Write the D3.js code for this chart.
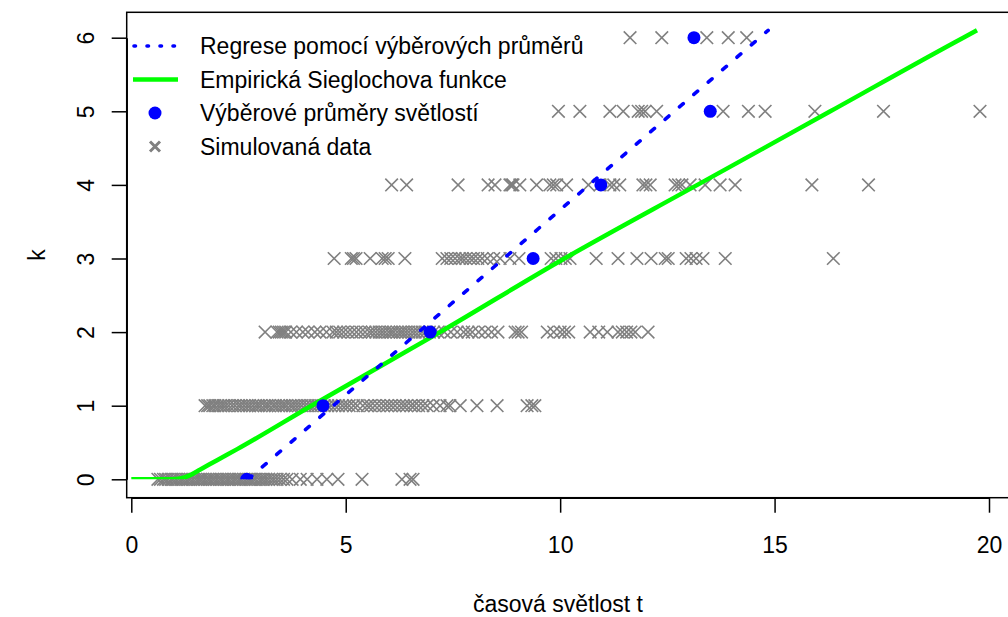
<!DOCTYPE html>
<html>
<head>
<meta charset="utf-8">
<script src="https://cdn.jsdelivr.net/npm/d3@7"></script>
<style>
  body { margin: 0; background: #fff; }
  text { font-family: "Liberation Sans", Arial, sans-serif; fill: #000; }
</style>
</head>
<body>
<div id="graph-area"></div>
<script>
// simulated data, one list per level k
var sim0 = [0.62,0.68,0.75,0.8,0.86,0.93,0.98,1.04,1.1,1.16,1.21,1.27,1.33,1.38,1.44,1.5,1.56,1.61,1.66,1.72,1.78,1.83,1.89,1.94,2.0,2.06,2.11,2.17,2.23,2.28,2.34,2.4,2.45,2.51,2.56,2.62,2.68,2.74,2.79,2.85,2.9,2.97,3.03,3.08,3.14,3.2,3.27,3.33,3.4,3.47,3.55,3.63,3.75,3.94,4.1,4.33,4.56,4.82,5.38,6.31,6.5,6.57];
var sim1 = [1.72,1.78,1.83,1.9,1.95,2.02,2.08,2.14,2.2,2.27,2.35,2.42,2.5,2.56,2.63,2.7,2.76,2.83,2.9,2.96,3.02,3.1,3.16,3.22,3.3,3.36,3.43,3.5,3.56,3.62,3.7,3.76,3.83,3.9,3.97,4.05,4.12,4.2,4.28,4.35,4.42,4.5,4.58,4.66,4.75,4.83,4.92,5.0,5.08,5.18,5.27,5.4,5.5,5.58,5.68,5.78,5.88,5.97,6.06,6.15,6.25,6.34,6.42,6.52,6.6,6.7,6.8,6.9,7.04,7.2,7.36,7.43,7.67,8.06,8.53,9.23,9.34,9.41];
var sim2 = [3.12,3.4,3.45,3.5,3.55,3.6,3.72,3.85,4.0,4.12,4.28,4.4,4.55,4.7,4.78,4.86,4.95,5.05,5.15,5.25,5.35,5.45,5.55,5.62,5.7,5.78,5.85,5.92,6.0,6.06,6.12,6.2,6.27,6.33,6.4,6.47,6.55,6.62,6.7,6.78,6.86,6.95,7.05,7.15,7.3,7.45,7.6,7.75,7.85,7.95,8.1,8.25,8.4,8.55,8.95,9.02,9.1,9.7,9.85,10.0,10.1,10.2,10.7,10.9,11.1,11.35,11.45,11.55,11.65,11.75,12.05];
var sim3 = [4.73,5.13,5.18,5.24,5.57,5.85,5.92,5.99,6.38,7.25,7.36,7.45,7.55,7.65,7.72,7.8,7.9,7.98,8.08,8.18,8.3,8.45,8.6,8.83,9.04,9.79,9.9,10.02,10.12,10.23,10.84,11.35,11.79,12.12,12.45,12.52,12.94,13.05,13.17,13.33,13.85,16.37];
var sim4 = [6.07,6.42,7.62,8.32,8.48,8.83,8.87,8.9,9.06,9.45,9.76,9.84,9.92,10.15,10.66,10.93,11.16,11.25,11.39,11.93,12.0,12.1,12.68,12.76,12.84,13.03,13.38,13.73,14.08,15.87,17.19];
var sim5 = [9.96,10.46,11.16,11.47,11.82,11.9,11.98,12.25,13.8,14.39,14.78,15.94,17.54,19.79];
var sim6 = [11.63,12.37,13.42,13.92,14.35];
var simLevels = [sim0, sim1, sim2, sim3, sim4, sim5, sim6];

// sample means
var meanT = [2.69, 4.47, 6.97, 9.37, 10.95, 13.5, 13.12];
var meanK = [0, 1, 2, 3, 4, 5, 6];

// regression line through the means
var regT = [2.72, 14.85];
var regK = [0, 6.1];

// empirical Siegloch function
var sieglT = [0, 0.95, 1.15, 1.35, 1.6, 2.0, 2.47, 4.2, 7.2, 10.1, 13.2, 16.3, 19.4, 19.72];
var sieglK = [0, 0, 0.01, 0.05, 0.13, 0.26, 0.41, 1.0, 2.0, 3.0, 4.0, 5.0, 6.0, 6.1];

var xTicks = [0, 5, 10, 15, 20];
var yTicks = [0, 1, 2, 3, 4, 5, 6];
var legendLabels = ["Regrese pomocí výběrových průměrů", "Empirická Sieglochova funkce", "Výběrové průměry světlostí", "Simulovaná data"];

var width = 1008, height = 617;
var box = {left: 126.7, top: 12.3, bottom: 497.7, right: 1030};

var svg = d3.select("#graph-area")
    .append("svg")
    .attr("width", width)
    .attr("height", height);

svg.append("rect").attr("width", width).attr("height", height).attr("fill", "#fff");

var x = d3.scaleLinear().domain([0, 20]).range([131.3, 989]);
var y = d3.scaleLinear().domain([0, 6]).range([479.3, 37.7]);

// clip: lines and points are cut off below k = 0
svg.append("clipPath").attr("id", "clipTop")
    .append("rect")
    .attr("x", box.left).attr("y", box.top)
    .attr("width", box.right - box.left)
    .attr("height", y(0) - box.top);

// simulated crosses
var simData = [];
simLevels.forEach(function(list, k) {
    list.forEach(function(t) { simData.push({t: t, k: k}); });
});
var cr = 6.3;
svg.append("g")
    .selectAll("path")
    .data(simData)
    .enter()
    .append("path")
    .attr("d", function(d) {
        var cx = x(d.t), cy = y(d.k);
        return "M" + (cx - cr) + "," + (cy - cr) + "L" + (cx + cr) + "," + (cy + cr) +
               "M" + (cx - cr) + "," + (cy + cr) + "L" + (cx + cr) + "," + (cy - cr);
    })
    .attr("stroke", "#808080")
    .attr("stroke-width", 1.6)
    .attr("fill", "none");

var lineGroup = svg.append("g").attr("clip-path", "url(#clipTop)");

var sieglLine = d3.line()
    .x(function(d) { return x(d[0]); })
    .y(function(d) { return y(d[1]); })
    .curve(d3.curveMonotoneX);

lineGroup.append("path")
    .datum(d3.zip(sieglT, sieglK))
    .attr("d", sieglLine)
    .attr("fill", "none")
    .attr("stroke", "#00ff00")
    .attr("stroke-width", 4.5);

var regLine = d3.line()
    .x(function(d) { return x(d[0]); })
    .y(function(d) { return y(d[1]); });

lineGroup.append("path")
    .datum(d3.zip(regT, regK))
    .attr("d", regLine)
    .attr("fill", "none")
    .attr("stroke", "#0000ff")
    .attr("stroke-width", 3.6)
    .attr("stroke-linecap", "round")
    .attr("stroke-dasharray", "5,14");

lineGroup.selectAll("circle")
    .data(d3.zip(meanT, meanK))
    .enter()
    .append("circle")
    .attr("cx", function(d) { return x(d[0]); })
    .attr("cy", function(d) { return y(d[1]); })
    .attr("r", 6.5)
    .attr("fill", "#0000ff");

// box
svg.append("rect")
    .attr("x", box.left).attr("y", box.top)
    .attr("width", box.right - box.left)
    .attr("height", box.bottom - box.top)
    .attr("fill", "none")
    .attr("stroke", "#000")
    .attr("stroke-width", 1.5);

// axes
var xAxis = svg.append("g")
    .attr("transform", "translate(0," + box.bottom + ")")
    .call(d3.axisBottom(x).tickValues(xTicks).tickFormat(d3.format("d"))
        .tickSize(15).tickSizeOuter(0).tickPadding(24));
xAxis.selectAll("text").style("font-size", "23px");

var yAxis = svg.append("g")
    .attr("transform", "translate(" + box.left + ",0)")
    .call(d3.axisLeft(y).tickValues(yTicks).tickFormat(d3.format("d"))
        .tickSize(15).tickSizeOuter(0));
yAxis.selectAll("text")
    .attr("x", 0)
    .attr("dy", null)
    .attr("transform", "translate(-41,0) rotate(-90)")
    .attr("text-anchor", "middle")
    .attr("dominant-baseline", "central")
    .style("font-size", "23px");

svg.selectAll(".domain, .tick line").attr("stroke", "#000").attr("stroke-width", 1.5);
svg.selectAll(".tick text").style("font-family", "'Liberation Sans', Arial, sans-serif");

// axis titles
svg.append("text")
    .attr("x", 558).attr("y", 612)
    .attr("text-anchor", "middle")
    .style("font-size", "23px")
    .text("časová světlost t");

svg.append("text")
    .attr("transform", "translate(37,255) rotate(-90)")
    .attr("text-anchor", "middle")
    .attr("dominant-baseline", "central")
    .style("font-size", "23px")
    .text("k");

// legend
var legY = [46, 79.5, 113, 146.5];
var leg = svg.append("g");
leg.selectAll("text")
    .data(legendLabels)
    .enter()
    .append("text")
    .attr("x", 200)
    .attr("y", function(d, i) { return legY[i]; })
    .attr("dominant-baseline", "central")
    .style("font-size", "23px")
    .text(function(d) { return d; });

leg.append("line")
    .attr("x1", 134).attr("x2", 178)
    .attr("y1", legY[0]).attr("y2", legY[0])
    .attr("stroke", "#0000ff").attr("stroke-width", 3.6)
    .attr("stroke-linecap", "round")
    .attr("stroke-dasharray", "1.5,11.5");

leg.append("line")
    .attr("x1", 133).attr("x2", 178)
    .attr("y1", legY[1]).attr("y2", legY[1])
    .attr("stroke", "#00ff00").attr("stroke-width", 4.5);

leg.append("circle")
    .attr("cx", 155).attr("cy", legY[2]).attr("r", 6.5)
    .attr("fill", "#0000ff");

var lr = 5;
leg.append("path")
    .attr("d", "M" + (155 - lr) + "," + (legY[3] - lr) + "L" + (155 + lr) + "," + (legY[3] + lr) +
               "M" + (155 - lr) + "," + (legY[3] + lr) + "L" + (155 + lr) + "," + (legY[3] - lr))
    .attr("stroke", "#808080")
    .attr("stroke-width", 3)
    .attr("fill", "none");
</script>
</body>
</html>
